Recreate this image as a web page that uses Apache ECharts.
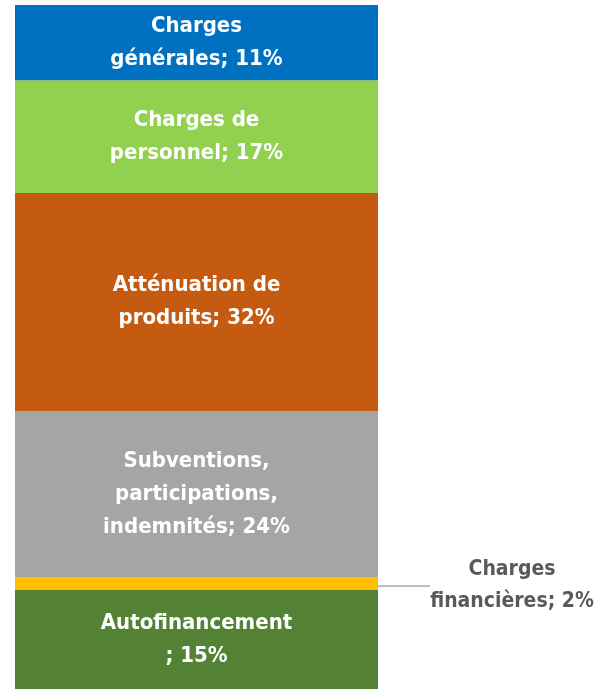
<!DOCTYPE html>
<html><head><meta charset="utf-8">
<style>html,body{margin:0;padding:0;background:#fff}#c{width:595px;height:689px}</style>
<script src="https://cdn.jsdelivr.net/npm/echarts@6/dist/echarts.min.js"></script>
</head><body><div id="c"></div>
<script>
// bottom to top
const categories = ['Autofinancement', 'Charges financières', 'Subventions, participations, indemnités', 'Atténuation de produits', 'Charges de personnel', 'Charges générales'];
const labelNames = ['Autofinancement\n', 'Charges\nfinancières', 'Subventions,\nparticipations,\nindemnités', 'Atténuation de\nproduits', 'Charges de\npersonnel', 'Charges\ngénérales'];
const values = [14.5, 1.8, 24.4, 31.9, 16.5, 11.0];
const colors = ['#548235', '#FFC000', '#A5A5A5', '#C55A11', '#92D050', '#0070C0'];

const FONT = '"DejaVu Sans Condensed","Liberation Sans",sans-serif';
const total = values.reduce((a, b) => a + b, 0);
const chart = echarts.init(document.getElementById('c'));
const series = categories.map((name, i) => {
  const outside = i === 1;
  const s = {
    name: name,
    type: 'bar',
    stack: 'all',
    barWidth: '100%',
    data: [values[i]],
    itemStyle: { color: colors[i] },
    label: {
      show: true,
      position: outside ? 'right' : 'inside',
      formatter: () => labelNames[i] + '; ' + Math.round(values[i]) + '%',
      color: outside ? '#595959' : '#ffffff',
      fontFamily: FONT,
      fontWeight: 'bold',
      fontSize: outside ? 21 : 22,
      lineHeight: outside ? 32 : 33,
      align: 'center'
    }
  };
  if (outside) {
    s.labelLayout = { x: 512, y: 586, align: 'center', verticalAlign: 'middle' };
    s.labelLine = { show: true, lineStyle: { color: '#7f7f7f', width: 1 } };
  }
  return s;
});
chart.setOption({
  animation: false,
  grid: { left: 15, right: 217, top: 5, bottom: 0, containLabel: false },
  xAxis: { type: 'category', data: ['Total'], show: false },
  yAxis: { type: 'value', min: 0, max: total, show: false },
  series: series
});
</script></body></html>
